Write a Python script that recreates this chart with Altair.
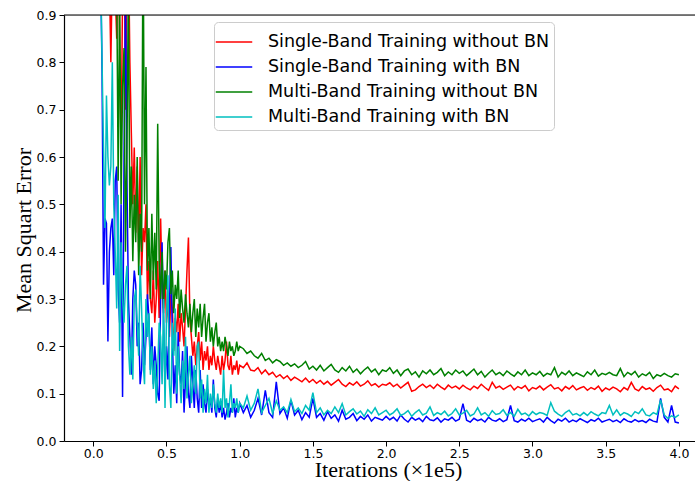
import altair as alt
import pandas as pd

# iteration positions (x 1e5)
x_early = [round(0.04 + 0.01 * i, 3) for i in range(97)]
x_late = [round(1.025 + 0.025 * k, 3) for k in range(120)]

series_names = [
    "Single-Band Training without BN",
    "Single-Band Training with BN",
    "Multi-Band Training without BN",
    "Multi-Band Training with BN",
]
series_colors = ["#ff0000", "#0000ff", "#008000", "#00bfbf"]

red_early = [1.5, 1.4, 1.3, 1.25, 1.2, 1.1, 1.05, 0.98, 0.80, 1.0, 0.92, 0.95, 0.85, 1.1, 0.85, 0.6,
             0.95, 1.1, 0.7, 0.98, 1.05, 0.8, 0.65, 0.5, 0.62, 0.44, 0.58, 0.40, 0.60, 0.35, 0.45, 0.42,
             0.5, 0.30, 0.38, 0.30, 0.27, 0.36, 0.25, 0.30, 0.38, 0.26, 0.47, 0.33, 0.27, 0.36, 0.25, 0.30,
             0.22, 0.31, 0.28, 0.19, 0.26, 0.23, 0.29, 0.21, 0.27, 0.24, 0.20, 0.28, 0.36, 0.43, 0.26, 0.22,
             0.18, 0.21, 0.16, 0.20, 0.23, 0.17, 0.21, 0.15, 0.19, 0.17, 0.20, 0.15, 0.18, 0.16, 0.20, 0.17,
             0.15, 0.18, 0.16, 0.14, 0.18, 0.15, 0.17, 0.21, 0.16, 0.15, 0.18, 0.14, 0.16, 0.15, 0.17, 0.14,
             0.16]
red_late = [0.155, 0.165, 0.15, 0.148, 0.155, 0.142, 0.15, 0.14, 0.145, 0.135, 0.14, 0.132, 0.138, 0.128, 0.135, 0.13, 0.125, 0.133, 0.124, 0.13,
            0.122, 0.128, 0.12, 0.126, 0.118, 0.124, 0.13, 0.12, 0.115, 0.123, 0.118, 0.125, 0.116, 0.12, 0.127, 0.117, 0.121, 0.114, 0.12, 0.118,
            0.123, 0.115, 0.12, 0.112, 0.118, 0.124, 0.105, 0.108, 0.115, 0.12, 0.113, 0.118, 0.111, 0.12, 0.114, 0.109, 0.118, 0.112, 0.116, 0.11,
            0.118, 0.112, 0.108, 0.116, 0.111, 0.12, 0.113, 0.107, 0.124, 0.112, 0.116, 0.109, 0.114, 0.118, 0.108, 0.115, 0.111, 0.117, 0.106, 0.113,
            0.11, 0.116, 0.108, 0.114, 0.119, 0.11, 0.113, 0.106, 0.115, 0.11, 0.117, 0.108, 0.112, 0.115, 0.107, 0.113, 0.109, 0.116, 0.105, 0.112,
            0.108, 0.114, 0.11, 0.104, 0.113, 0.108, 0.124, 0.11, 0.106, 0.115, 0.109, 0.112, 0.105, 0.113, 0.118, 0.108, 0.11, 0.104, 0.116, 0.11]

blue_early = [1.6, 1.0, 0.78, 0.33, 0.47, 0.46, 0.21, 0.40, 0.45, 0.47, 0.35, 0.55, 0.58, 0.32, 0.25, 0.50,
              0.093, 0.60, 0.95, 0.55, 0.30, 0.22, 0.14, 0.30, 0.36, 0.33, 0.20, 0.25, 0.12, 0.15, 0.25, 0.16,
              0.22, 0.31, 0.26, 0.15, 0.24, 0.12, 0.20, 0.16, 0.10, 0.085, 0.30, 0.42, 0.25, 0.12, 0.20, 0.13,
              0.28, 0.41, 0.22, 0.10, 0.16, 0.08, 0.23, 0.14, 0.12, 0.19, 0.06, 0.13, 0.20, 0.10, 0.07, 0.18,
              0.12, 0.07, 0.15, 0.09, 0.06, 0.15, 0.07, 0.12, 0.08, 0.06, 0.11, 0.07, 0.09, 0.06, 0.13, 0.07,
              0.05, 0.09, 0.06, 0.08, 0.05, 0.07, 0.045, 0.06, 0.08, 0.05, 0.07, 0.06, 0.09, 0.05, 0.07, 0.06,
              0.08]
blue_late = [0.06, 0.075, 0.05, 0.065, 0.09, 0.055, 0.107, 0.06, 0.05, 0.125, 0.058, 0.07, 0.048, 0.086, 0.055, 0.065, 0.045, 0.06, 0.05, 0.09,
             0.05, 0.058, 0.044, 0.062, 0.048, 0.055, 0.042, 0.065, 0.046, 0.05, 0.058, 0.043, 0.052, 0.046, 0.055, 0.042, 0.05, 0.047, 0.044, 0.052,
             0.045, 0.05, 0.042, 0.055, 0.046, 0.04, 0.05, 0.044, 0.048, 0.041, 0.052, 0.045, 0.043, 0.049, 0.04, 0.047, 0.044, 0.05, 0.042, 0.046,
             0.079, 0.044, 0.04, 0.048, 0.043, 0.046, 0.04, 0.05, 0.044, 0.042, 0.047, 0.041, 0.045, 0.075, 0.043, 0.04, 0.046, 0.042, 0.048, 0.041,
             0.044, 0.047, 0.04, 0.05, 0.043, 0.038, 0.046, 0.042, 0.048, 0.04, 0.044, 0.041, 0.047, 0.043, 0.039, 0.045, 0.042, 0.048, 0.04, 0.043,
             0.046, 0.041, 0.044, 0.039, 0.047, 0.042, 0.04, 0.045, 0.041, 0.043, 0.039, 0.046, 0.042, 0.04, 0.09, 0.05, 0.04, 0.075, 0.04, 0.038]

green_early = [1.6, 1.5, 1.45, 1.4, 1.35, 1.3, 1.25, 1.2, 1.15, 1.1, 1.05, 1.0, 0.98,
               0.55, 0.95, 0.50, 0.75, 0.83, 0.40, 0.62, 0.97, 0.45, 0.58, 0.38, 0.52, 0.42, 0.60, 0.35, 0.48,
               0.40, 1.1, 0.50, 0.79, 0.36, 0.45, 0.30, 0.48, 0.34, 0.44, 0.32, 0.67, 0.38, 0.30, 0.40, 0.28,
               0.36, 0.32, 0.42, 0.45, 0.31, 0.36, 0.27, 0.33, 0.30, 0.36, 0.26, 0.32, 0.28, 0.25, 0.31, 0.27,
               0.24, 0.29, 0.23, 0.27, 0.30, 0.22, 0.28, 0.24, 0.29, 0.22, 0.26, 0.29, 0.21, 0.25, 0.27, 0.21,
               0.24, 0.20, 0.23, 0.25, 0.20, 0.22, 0.19, 0.21, 0.19, 0.22, 0.20, 0.18, 0.21, 0.19, 0.20, 0.18,
               0.19, 0.21, 0.19, 0.20]
green_late = [0.195, 0.185, 0.19, 0.18, 0.175, 0.185, 0.17, 0.175, 0.165, 0.172, 0.168, 0.16, 0.165, 0.158, 0.163, 0.155, 0.16, 0.168, 0.152, 0.158,
              0.15, 0.16, 0.148, 0.155, 0.162, 0.15, 0.145, 0.155, 0.148, 0.158, 0.145, 0.152, 0.142, 0.15, 0.156, 0.146, 0.152, 0.14, 0.15, 0.147,
              0.155, 0.143, 0.15, 0.138, 0.148, 0.152, 0.14, 0.146, 0.135, 0.148, 0.142, 0.15, 0.14, 0.145, 0.153, 0.138, 0.146, 0.14, 0.15, 0.143,
              0.148, 0.138, 0.145, 0.152, 0.14, 0.147, 0.135, 0.143, 0.15, 0.14, 0.145, 0.138, 0.148, 0.142, 0.137, 0.146, 0.14, 0.15, 0.138, 0.144,
              0.14, 0.147, 0.137, 0.143, 0.14, 0.155, 0.135, 0.145, 0.14, 0.148, 0.138, 0.144, 0.14, 0.136, 0.146, 0.14, 0.15, 0.137, 0.143, 0.14,
              0.145, 0.14, 0.138, 0.153, 0.136, 0.145, 0.14, 0.147, 0.135, 0.142, 0.138, 0.145, 0.132, 0.14, 0.137, 0.143, 0.138, 0.135, 0.142, 0.14]

cyan_early = [1.5, 1.0, 0.80, 0.62, 0.45, 0.73, 0.60, 0.54, 0.58, 0.80, 0.50, 0.40, 0.28, 0.52, 0.19, 0.42,
              0.30, 0.25, 0.33, 0.37, 0.20, 0.14, 0.22, 0.13, 0.30, 0.32, 0.25, 0.18, 0.37, 0.28, 0.17, 0.12,
              0.30, 0.22, 0.27, 0.14, 0.20, 0.11, 0.17, 0.08, 0.15, 0.25, 0.22, 0.12, 0.30, 0.07, 0.26, 0.35,
              0.12, 0.07, 0.25, 0.18, 0.28, 0.10, 0.20, 0.14, 0.08, 0.17, 0.11, 0.22, 0.09, 0.14, 0.18, 0.08,
              0.12, 0.16, 0.10, 0.20, 0.21, 0.09, 0.13, 0.06, 0.11, 0.08, 0.14, 0.06, 0.10, 0.07, 0.12, 0.08,
              0.06, 0.10, 0.07, 0.09, 0.06, 0.15, 0.07, 0.09, 0.05, 0.08, 0.12, 0.06, 0.08, 0.07, 0.09, 0.06,
              0.08]
cyan_late = [0.07, 0.095, 0.065, 0.08, 0.11, 0.06, 0.075, 0.09, 0.058, 0.085, 0.065, 0.072, 0.06, 0.088, 0.062, 0.07, 0.058, 0.075, 0.065, 0.102,
             0.06, 0.07, 0.055, 0.065, 0.058, 0.072, 0.06, 0.079, 0.055, 0.062, 0.068, 0.057, 0.063, 0.052, 0.066, 0.058, 0.07, 0.055, 0.06, 0.065,
             0.055, 0.06, 0.068, 0.054, 0.058, 0.064, 0.052, 0.06, 0.066, 0.055, 0.059, 0.072, 0.054, 0.06, 0.056, 0.063, 0.053, 0.058, 0.068, 0.055,
             0.059, 0.065, 0.053, 0.057, 0.07, 0.055, 0.06, 0.052, 0.064, 0.056, 0.058, 0.066, 0.054, 0.06, 0.052, 0.067, 0.056, 0.059, 0.053, 0.062,
             0.056, 0.06, 0.058, 0.054, 0.081, 0.063, 0.057, 0.052, 0.06, 0.065, 0.055, 0.058, 0.053, 0.06, 0.054, 0.062, 0.057, 0.053, 0.06, 0.058,
             0.075, 0.055, 0.066, 0.054, 0.06, 0.057, 0.052, 0.062, 0.058, 0.068, 0.055, 0.053, 0.06, 0.056, 0.087, 0.055, 0.048, 0.053, 0.05, 0.055]

all_series = [
    (red_early, red_late),
    (blue_early, blue_late),
    (green_early, green_late),
    (cyan_early, cyan_late),
]
xs = x_early + x_late
rows = []
for name, (e, l) in zip(series_names, all_series):
    ys = e + l
    if len(ys) != len(xs):
        raise ValueError(f"{name}: {len(e)} early, {len(l)} late")
    for xv, yv in zip(xs, ys):
        rows.append({"iter": xv, "mse": yv, "series": name})
df = pd.DataFrame(rows)

W, H = 631, 426
tick_font = "DejaVu Sans"
title_font = "Liberation Serif"

x_enc = alt.X(
    "iter:Q",
    scale=alt.Scale(domain=[-0.2, 4.11], nice=False, zero=False),
    axis=alt.Axis(
        values=[0, 0.5, 1.0, 1.5, 2.0, 2.5, 3.0, 3.5, 4.0], format=".1f",
        title="Iterations (×1e5)", titleFont=title_font, titleFontSize=22,
        titleFontWeight="normal", titleColor="black", titleX=324, titleY=35,
        titleBaseline="alphabetic",
        labelFont=tick_font, labelFontSize=12.5, labelColor="black", labelPadding=1,
        tickSize=5, tickColor="black", tickWidth=1,
        domainColor="black", domainWidth=1.2, grid=False,
    ),
)
y_enc = alt.Y(
    "mse:Q",
    scale=alt.Scale(domain=[0, 0.9], nice=False, zero=False),
    axis=alt.Axis(
        values=[0, 0.1, 0.2, 0.3, 0.4, 0.5, 0.6, 0.7, 0.8, 0.9], format=".1f",
        title="Mean Squart Error", titleFont=title_font, titleFontSize=22,
        titleFontWeight="normal", titleColor="black", titleX=-41, titleY=215,
        titleAngle=-90, titleBaseline="middle", titleAlign="center",
        labelFont=tick_font, labelFontSize=12.5, labelColor="black", labelPadding=3,
        tickSize=5, tickColor="black", tickWidth=1,
        domainColor="black", domainWidth=1.2, grid=False,
    ),
)
color_enc = alt.Color(
    "series:N",
    scale=alt.Scale(domain=series_names, range=series_colors),
    legend=alt.Legend(
        title=None, orient="none", legendX=150, legendY=7,
        symbolType="M-1.2,0H1.2", symbolSize=924, symbolStrokeWidth=1.5,
        labelFont=tick_font, labelFontSize=17.5, labelColor="black", labelOffset=18,
        labelLimit=0,
        fillColor="rgba(255,255,255,0.8)", strokeColor="#cccccc", cornerRadius=4,
        padding=4, rowPadding=0,
    ),
)

layers = []
for name in series_names:
    layers.append(
        alt.Chart(df[df["series"] == name])
        .mark_line(strokeWidth=1.5, clip=True)
        .encode(x=x_enc, y=y_enc, color=color_enc)
    )

top_spine = alt.Chart(df.head(1)).mark_rule(color="black", strokeWidth=1.2).encode(
    x=alt.value(0), x2=alt.value(W), y=alt.value(0)
)

chart = (
    alt.layer(*layers, top_spine)
    .properties(
        width=W, height=H,
        autosize=alt.AutoSizeParams(type="none"),
        padding={"left": 64, "top": 15, "right": 0, "bottom": 40},
    )
    .configure_view(stroke=None)
    .configure(background="white")
)

chart.save("out.html", embed_options={"renderer": "svg", "actions": False})
